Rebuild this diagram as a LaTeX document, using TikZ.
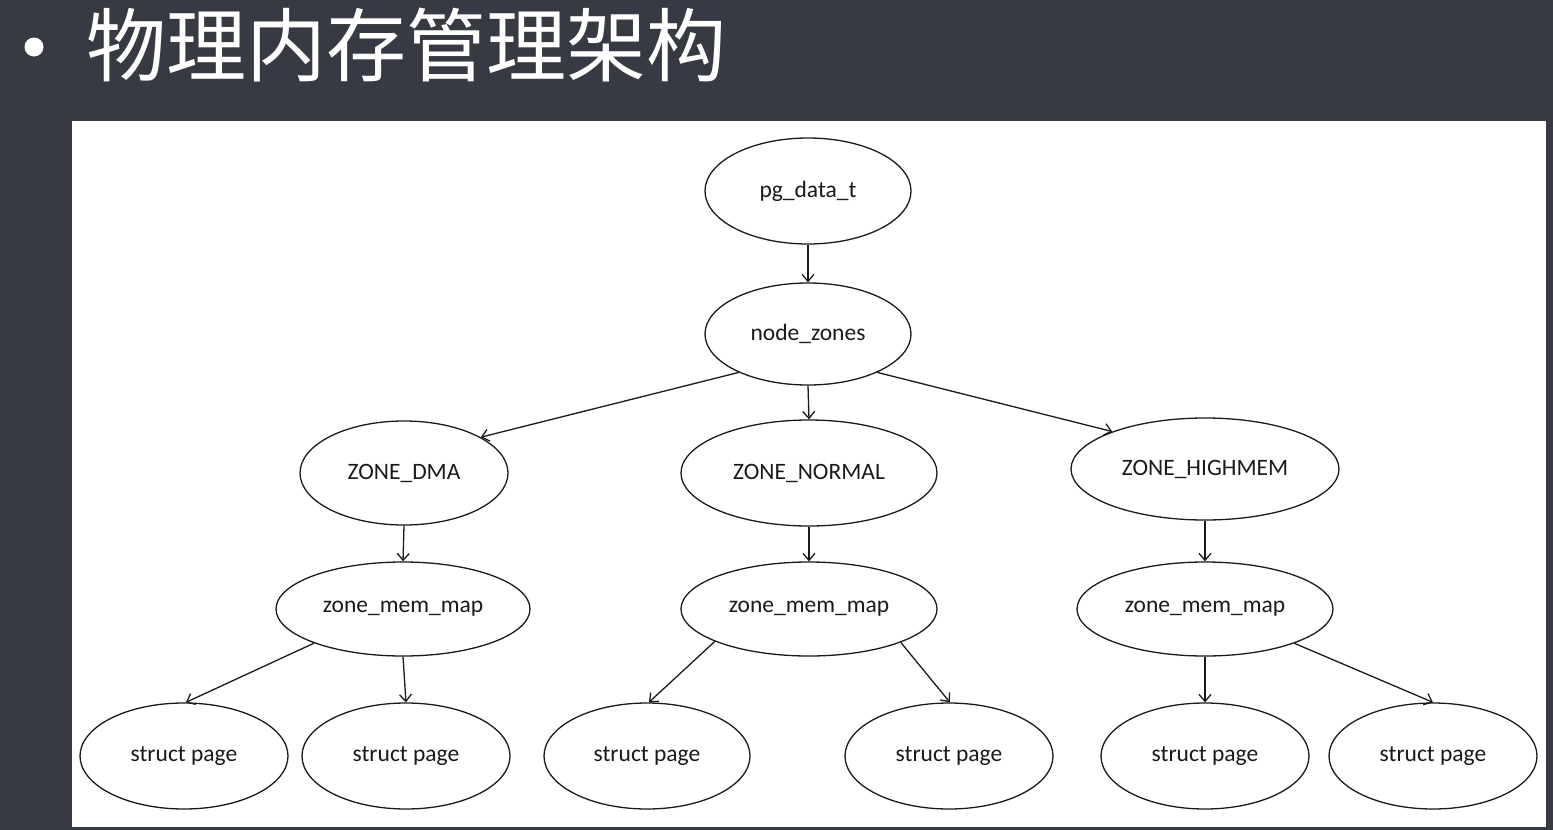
\documentclass[tikz,border=0pt]{standalone}
\usepackage{fontspec}
\setmainfont{Carlito}
\newfontfamily\cjk{Noto Sans CJK SC}
\usetikzlibrary{shapes.geometric,arrows.meta}
\definecolor{bgdark}{HTML}{383A43}
\definecolor{ink}{HTML}{1A1A1A}
\tikzset{
  ell/.style={ellipse, draw=ink, line width=1.3pt, inner sep=0pt, text=ink,
    font=\fontsize{23.5}{26}\selectfont},
  arr/.style={draw=ink, line width=1.3pt, -{Straight Barb[length=7pt,width=12pt]}}
}
\begin{document}
\begin{tikzpicture}[x=1pt,y=-1pt]
\fill[bgdark] (0,0) rectangle (1553,830);
\useasboundingbox (0,0) rectangle (1553,830);
\fill[white] (72,121) rectangle (1546,827);
\fill[white] (34,47) circle (9.5);
\node[anchor=west, text=white, inner sep=0pt, font=\cjk\fontsize{80}{86}\selectfont] (title) at (86,45) {物理内存管理架构};

\node[ell, minimum width=206, minimum height=106] (pg) at (808,191) {pg\_data\_t};
\node[ell, minimum width=206, minimum height=102] (nz) at (808,334) {node\_zones};
\node[ell, minimum width=208, minimum height=104] (dma) at (404,473) {ZONE\_DMA};
\node[ell, minimum width=256, minimum height=106] (normal) at (809,473) {ZONE\_NORMAL};
\node[ell, minimum width=268, minimum height=102] (high) at (1205,469) {ZONE\_HIGHMEM};
\node[ell, minimum width=254, minimum height=94] (m1) at (403,609) {zone\_mem\_map};
\node[ell, minimum width=256, minimum height=94] (m2) at (809,609) {zone\_mem\_map};
\node[ell, minimum width=256, minimum height=94] (m3) at (1205,609) {zone\_mem\_map};
\node[ell, minimum width=208, minimum height=106] (s1) at (184,756) {struct page};
\node[ell, minimum width=208, minimum height=106] (s2) at (406,756) {struct page};
\node[ell, minimum width=206, minimum height=106] (s3) at (647,756) {struct page};
\node[ell, minimum width=208, minimum height=106] (s4) at (949,756) {struct page};
\node[ell, minimum width=208, minimum height=106] (s5) at (1205,756) {struct page};
\node[ell, minimum width=208, minimum height=106] (s6) at (1433,756) {struct page};

\draw[arr] (pg.south) -- (nz.north);
\draw[arr] (nz.209.3) -- (dma.25.9);
\draw[arr] (nz.south) -- (normal.north);
\draw[arr] (nz.331.6) -- (high.158.7);
\draw[arr] (dma.south) -- (m1.north);
\draw[arr] (normal.south) -- (m2.north);
\draw[arr] (high.south) -- (m3.north);
\draw[arr] (m1.201.1) -- (s1.88);
\draw[arr] (m1.south) -- (s2.north);
\draw[arr] (m2.199.6) -- (s3.88);
\draw[arr] (m2.340.6) -- (s4.89);
\draw[arr] (m3.south) -- (s5.north);
\draw[arr] (m3.339.7) -- (s6.north);
\end{tikzpicture}
\end{document}
